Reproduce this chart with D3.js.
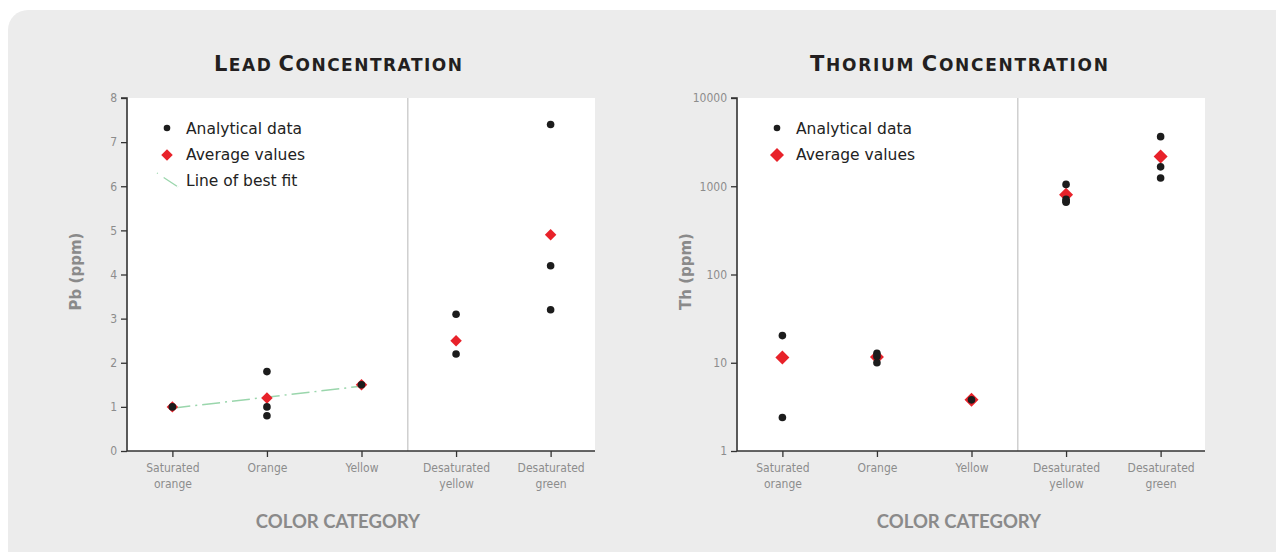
<!DOCTYPE html>
<html>
<head>
<meta charset="utf-8">
<script src="https://cdn.jsdelivr.net/npm/d3@7"></script>
<style>
  body { margin: 0; background: #fff; }
  text { font-family: "DejaVu Sans", sans-serif; }
</style>
</head>
<body>
<div id="chart"></div>
<script>
// catégories (axe x) et étiquettes sur deux lignes
const categories = ["Saturated orange", "Orange", "Yellow", "Desaturated yellow", "Desaturated green"];
const categoryLines = [["Saturated", "orange"], ["Orange"], ["Yellow"], ["Desaturated", "yellow"], ["Desaturated", "green"]];

// Plomb (ppm)
const leadData = [[1.0], [1.8, 1.0, 0.8], [1.5], [3.1, 2.2], [7.4, 4.2, 3.2]];
const leadAvg = [1.0, 1.2, 1.5, 2.5, 4.9];
const leadFitCats = ["Saturated orange", "Yellow"];
const leadFit = [0.97, 1.47];
const leadTicks = [0, 1, 2, 3, 4, 5, 6, 7, 8];

// Thorium (ppm), échelle log
const thoriumData = [[20.3, 2.4], [12.8, 11.8, 10.0], [3.8], [1050, 710, 680, 660], [3650, 1660, 1240]];
const thoriumAvg = [11.5, 11.6, 3.8, 800, 2180];
const thoriumTicks = [1, 10, 100, 1000, 10000];

const width = 1276, height = 552;
const svg = d3.select("#chart").append("svg")
    .attr("width", width)
    .attr("height", height);

// panneau gris
svg.append("rect")
    .attr("x", 8).attr("y", 10)
    .attr("width", 1400).attr("height", 700)
    .attr("rx", 20)
    .attr("fill", "#ececec");

function drawChart(opts) {
    const left = opts.left, right = left + 468, top = 98, bottom = 451;
    const g = svg.append("g");

    const x = d3.scalePoint().domain(categories).range([left, right + 1]).padding(0.48);
    const y = opts.log
        ? d3.scaleLog().domain([1, 10000]).range([bottom, top])
        : d3.scaleLinear().domain([0, 8]).range([bottom, top]);

    // zone blanche
    g.append("rect")
        .attr("x", left).attr("y", top)
        .attr("width", right - left).attr("height", bottom - top)
        .attr("fill", "#fff");

    // séparateur vertical
    const sepX = (x("Yellow") + x("Desaturated yellow")) / 2 - 1;
    g.append("line")
        .attr("x1", sepX).attr("x2", sepX)
        .attr("y1", top).attr("y2", bottom)
        .attr("stroke", "#cfcfcf")
        .attr("stroke-width", 1.5);

    // axe y
    const yAxis = g.append("g")
        .attr("transform", "translate(" + left + ",0)")
        .call(d3.axisLeft(y).tickValues(opts.ticks).tickSize(6).tickPadding(4).tickFormat(d3.format("d")));
    yAxis.select(".domain").attr("stroke", "#333").attr("stroke-width", 1.6).attr("d", "M-6," + top + "H0V" + bottom);
    yAxis.selectAll(".tick line").attr("stroke", "#333").attr("stroke-width", 1.3);
    yAxis.selectAll(".tick text")
        .attr("fill", "#8c8c8c")
        .style("font-family", "'DejaVu Sans Condensed', 'DejaVu Sans', sans-serif")
        .style("font-stretch", "condensed")
        .style("font-size", "12px");

    // axe x
    const xAxis = g.append("g")
        .attr("transform", "translate(0," + bottom + ")")
        .call(d3.axisBottom(x).tickSize(6).tickFormat(""));
    xAxis.select(".domain").attr("stroke", "#333").attr("stroke-width", 1.6).attr("d", "M" + left + ",0H" + right);
    xAxis.selectAll(".tick line").attr("stroke", "#333").attr("stroke-width", 1.3);
    xAxis.selectAll(".tick").each(function(d, i) {
        const t = d3.select(this).append("text")
            .attr("fill", "#8c8c8c")
            .attr("text-anchor", "middle")
            .style("font-family", "'DejaVu Sans Condensed', 'DejaVu Sans', sans-serif")
            .style("font-stretch", "condensed")
            .style("font-size", "12px");
        categoryLines[i].forEach((line, k) => {
            t.append("tspan").attr("x", 0).attr("y", 21 + k * 16).text(line);
        });
    });

    // ligne de tendance
    if (opts.fit) {
        g.append("line")
            .attr("x1", x(opts.fitCats[0])).attr("y1", y(opts.fit[0]))
            .attr("x2", x(opts.fitCats[1])).attr("y2", y(opts.fit[1]))
            .attr("stroke", "#9ad6ac")
            .attr("stroke-width", 1.5)
            .attr("stroke-dasharray", "18,5,2,5");
    }

    // valeurs moyennes (losanges)
    const diamond = d3.symbol().type(d3.symbolDiamond2).size(opts.diamondSize);
    g.selectAll("path.avg")
        .data(opts.avg)
        .enter().append("path")
        .attr("class", "avg")
        .attr("d", diamond)
        .attr("transform", (d, i) => "translate(" + x(categories[i]) + "," + y(d) + ")")
        .attr("fill", "#e8222a");

    // données analytiques
    const points = [];
    opts.data.forEach((vals, i) => vals.forEach(v => points.push({ cat: categories[i], v: v })));
    g.selectAll("circle.pt")
        .data(points)
        .enter().append("circle")
        .attr("class", "pt")
        .attr("cx", d => x(d.cat))
        .attr("cy", d => y(d.v))
        .attr("r", 3.8)
        .attr("fill", "#1c1c1c");

    // légende
    const lx = left + 40, ly = 128;
    const legendItems = opts.fit ? ["Analytical data", "Average values", "Line of best fit"] : ["Analytical data", "Average values"];
    const leg = g.append("g");
    legendItems.forEach((label, i) => {
        const yy = ly + i * 26;
        if (i === 0) {
            leg.append("circle").attr("cx", lx).attr("cy", yy).attr("r", 3.3).attr("fill", "#1c1c1c");
        } else if (i === 1) {
            leg.append("path").attr("d", diamond).attr("transform", "translate(" + lx + "," + (yy + 1) + ")").attr("fill", "#e8222a");
        } else {
            leg.append("line")
                .attr("x1", lx - 10).attr("y1", yy - 7)
                .attr("x2", lx + 11).attr("y2", yy + 7)
                .attr("stroke", "#9ad6ac")
                .attr("stroke-width", 1.3)
                .attr("stroke-dasharray", "1,7,16");
        }
        leg.append("text")
            .attr("x", lx + 19)
            .attr("y", yy + 6)
            .attr("fill", "#222")
            .style("font-size", "15.5px")
            .text(label);
    });

    // titre (petites capitales)
    const title = svg.append("text")
        .attr("x", opts.center)
        .attr("y", 71)
        .attr("text-anchor", "middle")
        .attr("fill", "#231f20")
        .attr("textLength", opts.titleWidth)
        .attr("lengthAdjust", "spacing")
        .style("font-family", "'DejaVu Sans', sans-serif")
        .style("font-weight", "bold");
    opts.title.split(" ").forEach((word, k) => {
        if (k > 0) title.append("tspan").style("font-size", "14px").text(" ");
        title.append("tspan").style("font-size", "21px").text(word[0]);
        title.append("tspan").style("font-size", "17px").text(word.slice(1).toUpperCase());
    });

    // titre axe x
    svg.append("text")
        .attr("x", opts.center)
        .attr("y", 528)
        .attr("text-anchor", "middle")
        .attr("fill", "#8a8a8a")
        .style("font-family", "Lato, 'Open Sans', sans-serif")
        .style("font-weight", "700")
        .style("font-size", "18.5px")
        .text("COLOR CATEGORY");

    // titre axe y
    svg.append("text")
        .attr("transform", "translate(" + (left - 46) + "," + ((top + bottom) / 2 - 3) + ") rotate(-90)")
        .attr("text-anchor", "middle")
        .attr("fill", "#8a8a8a")
        .style("font-weight", "bold")
        .style("font-size", "15px")
        .text(opts.yLabel);
}

drawChart({
    left: 127, center: 338, title: "Lead Concentration", titleWidth: 248, yLabel: "Pb (ppm)",
    log: false, ticks: leadTicks, data: leadData, avg: leadAvg,
    fit: leadFit, fitCats: leadFitCats, diamondSize: 84
});
drawChart({
    left: 737, center: 959, title: "Thorium Concentration", titleWidth: 298, yLabel: "Th (ppm)",
    log: true, ticks: thoriumTicks, data: thoriumData, avg: thoriumAvg,
    diamondSize: 125
});
</script>
</body>
</html>
